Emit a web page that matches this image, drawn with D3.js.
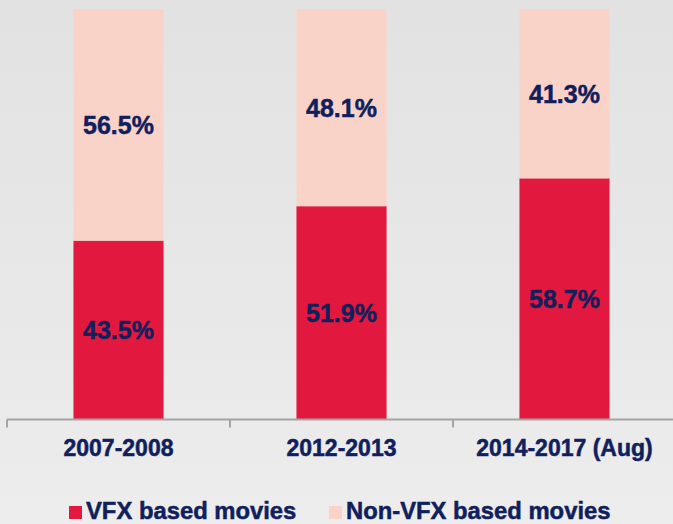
<!DOCTYPE html>
<html>
<head>
<meta charset="utf-8">
<script src="https://cdn.jsdelivr.net/npm/d3@7"></script>
<style>
  html, body { margin: 0; padding: 0; }
  body { width: 673px; height: 524px; overflow: hidden; }
  text { font-family: "Liberation Sans", Arial, sans-serif; font-weight: bold; stroke: #0f205c; stroke-width: 0.5px; }
</style>
</head>
<body>
<div class="chart"></div>
<script>
const categories = ['2007-2008', '2012-2013', '2014-2017 (Aug)'];
const vfxValues = [43.5, 51.9, 58.7];
const nonVfxValues = [56.5, 48.1, 41.3];
const seriesNames = ['VFX based movies', 'Non-VFX based movies'];

const width = 673;
const height = 524;
const navy = '#0f205c';
const colors = ['#e3183f', '#f9d3c8'];

const svg = d3.select('.chart')
  .append('svg')
  .attr('width', width)
  .attr('height', height);

// background: light gray, slightly darker at top
const defs = svg.append('defs');
const grad = defs.append('linearGradient')
  .attr('id', 'bg')
  .attr('x1', 0).attr('y1', 0).attr('x2', 0).attr('y2', 1);
grad.append('stop').attr('offset', '0%').attr('stop-color', '#e2e2e2');
grad.append('stop').attr('offset', '50%').attr('stop-color', '#e7e7e7');
grad.append('stop').attr('offset', '100%').attr('stop-color', '#ededed');
svg.append('rect')
  .attr('width', width)
  .attr('height', height)
  .attr('fill', 'url(#bg)');

const x = d3.scaleBand()
  .domain(categories)
  .range([7, 676])
  .paddingInner(0.596)
  .paddingOuter(0.298);

const xOuter = d3.scaleBand()
  .domain(categories)
  .range([7, 676]);

const y = d3.scaleLinear().domain([0, 100]).range([419, 9]);

const rows = categories.map((c, i) => ({
  key: c,
  vfx: vfxValues[i],
  non: nonVfxValues[i],
}));

// VFX segment (bottom)
svg.selectAll('.bar-vfx')
  .data(rows)
  .enter()
  .append('rect')
  .attr('class', 'bar-vfx')
  .attr('x', (d) => x(d.key))
  .attr('width', x.bandwidth())
  .attr('y', (d) => y(d.vfx))
  .attr('height', (d) => y(0) - y(d.vfx))
  .attr('fill', colors[0]);

// Non-VFX segment (top)
svg.selectAll('.bar-non')
  .data(rows)
  .enter()
  .append('rect')
  .attr('class', 'bar-non')
  .attr('x', (d) => x(d.key))
  .attr('width', x.bandwidth())
  .attr('y', (d) => y(d.vfx + d.non))
  .attr('height', (d) => y(d.vfx) - y(d.vfx + d.non))
  .attr('fill', colors[1]);

// value labels
const labelSize = 25;
svg.selectAll('.lbl-vfx')
  .data(rows)
  .enter()
  .append('text')
  .attr('class', 'lbl-vfx')
  .attr('text-anchor', 'middle')
  .attr('x', (d) => x(d.key) + x.bandwidth() / 2)
  .attr('y', (d) => (y(0) + y(d.vfx)) / 2 + labelSize * 0.38)
  .attr('font-size', labelSize)
  .attr('fill', navy)
  .text((d) => d.vfx.toFixed(1) + '%');

svg.selectAll('.lbl-non')
  .data(rows)
  .enter()
  .append('text')
  .attr('class', 'lbl-non')
  .attr('text-anchor', 'middle')
  .attr('x', (d) => x(d.key) + x.bandwidth() / 2)
  .attr('y', (d) => (y(d.vfx) + y(d.vfx + d.non)) / 2 + labelSize * 0.38)
  .attr('font-size', labelSize)
  .attr('fill', navy)
  .text((d) => d.non.toFixed(1) + '%');

// axis line and ticks at band boundaries
const axisY = y(0) + 0.5;
svg.append('line')
  .attr('x1', xOuter.range()[0])
  .attr('x2', xOuter.range()[1])
  .attr('y1', axisY)
  .attr('y2', axisY)
  .attr('stroke', '#a4a4a4')
  .attr('stroke-width', 2);

const tickXs = categories.map((c) => xOuter(c)).concat([xOuter.range()[1]]);
svg.selectAll('.tick')
  .data(tickXs)
  .enter()
  .append('line')
  .attr('class', 'tick')
  .attr('x1', (d) => d)
  .attr('x2', (d) => d)
  .attr('y1', axisY)
  .attr('y2', axisY + 8)
  .attr('stroke', '#a4a4a4')
  .attr('stroke-width', 2);

// category labels
svg.selectAll('.cat')
  .data(categories)
  .enter()
  .append('text')
  .attr('class', 'cat')
  .attr('text-anchor', 'middle')
  .attr('x', (d) => xOuter(d) + xOuter.bandwidth() / 2)
  .attr('y', 456)
  .attr('font-size', 23)
  .attr('fill', navy)
  .text((d) => d);

// legend
const legendX = [69, 329];
const legend = svg.selectAll('.legend')
  .data(seriesNames)
  .enter()
  .append('g')
  .attr('class', 'legend')
  .attr('transform', (d, i) => `translate(${legendX[i]},519)`);

legend.append('rect')
  .attr('x', 0)
  .attr('y', -13)
  .attr('width', 13)
  .attr('height', 13)
  .attr('fill', (d, i) => colors[i]);

legend.append('text')
  .attr('x', 17)
  .attr('y', 0)
  .attr('font-size', 23.8)
  .attr('fill', navy)
  .text((d) => d);
</script>
</body>
</html>
